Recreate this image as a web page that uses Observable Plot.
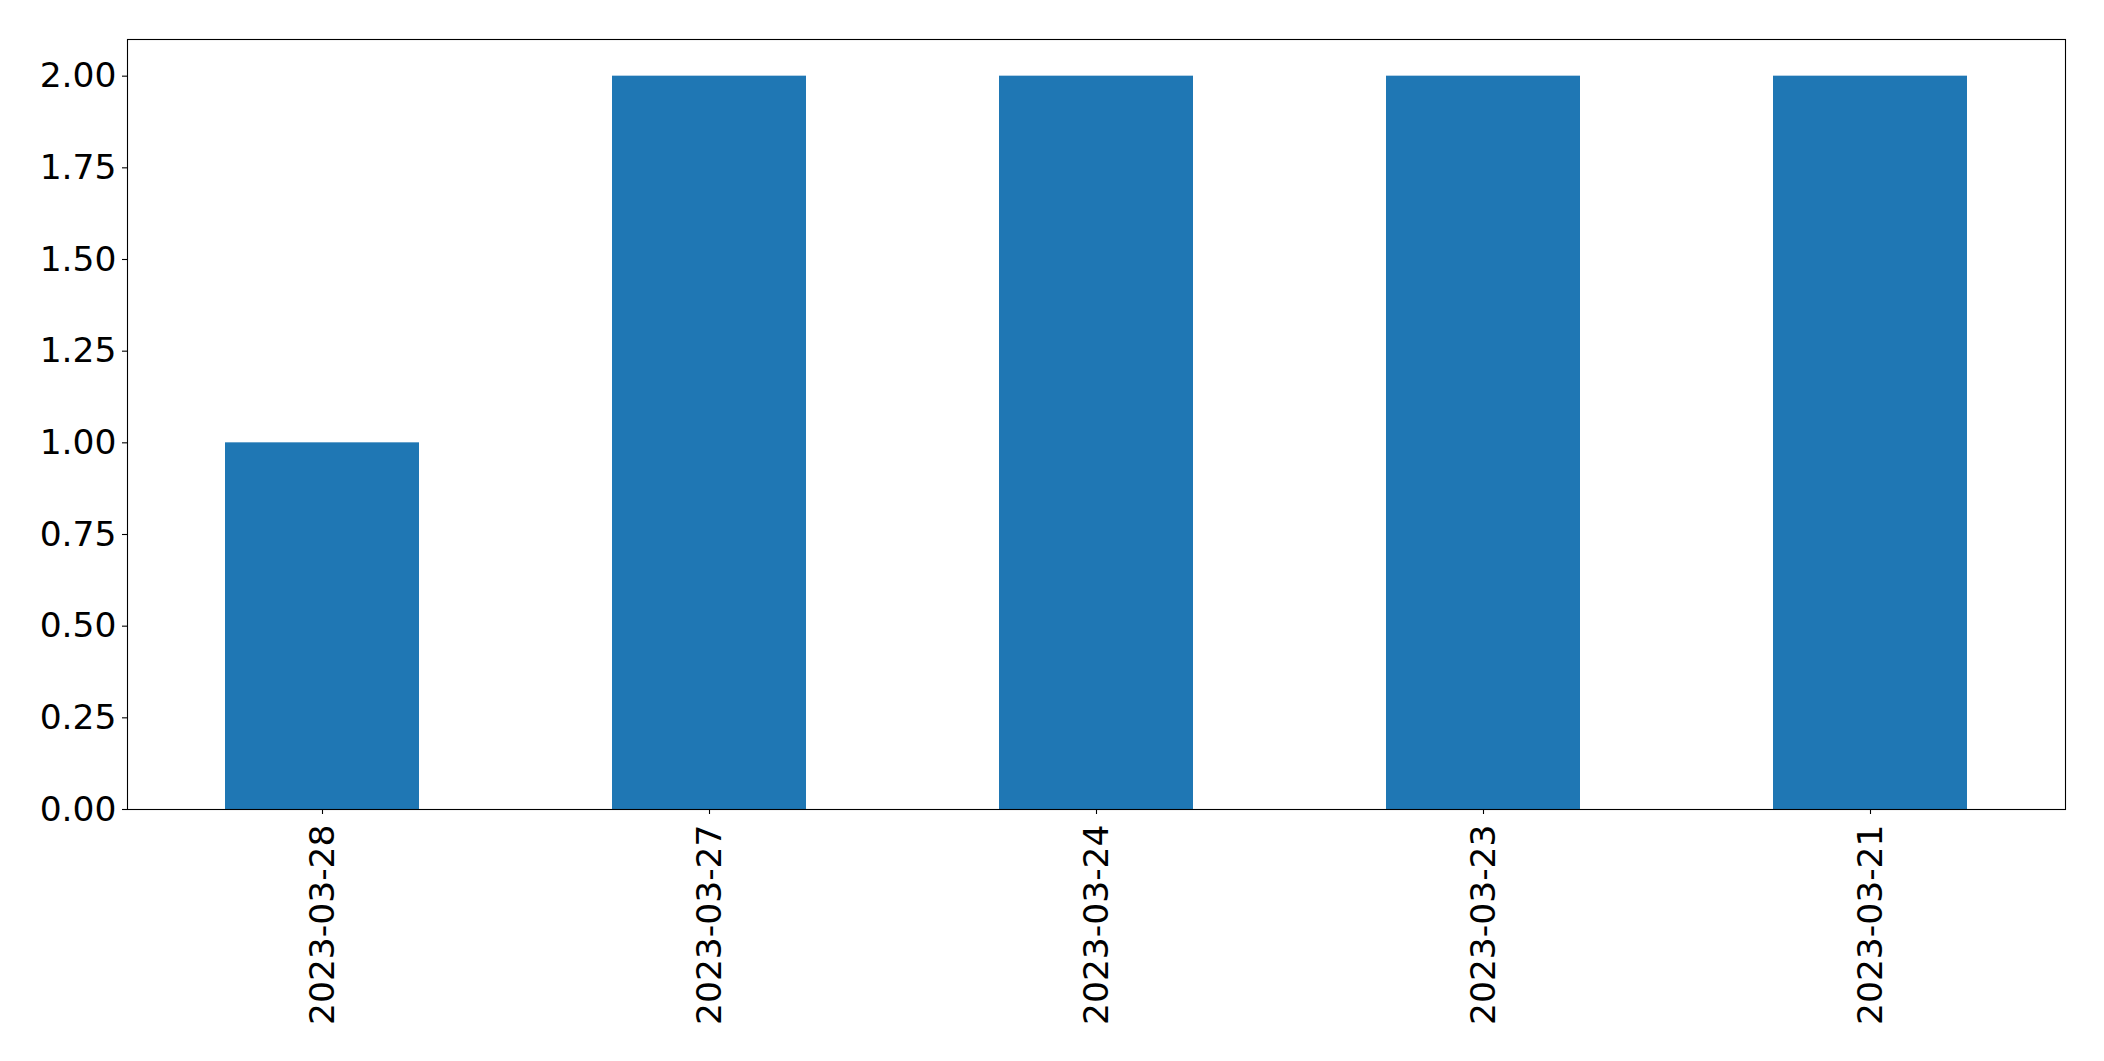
<!DOCTYPE html>
<html>
<head>
<meta charset="utf-8">
<script src="https://cdn.jsdelivr.net/npm/d3@7"></script>
<script src="https://cdn.jsdelivr.net/npm/@observablehq/plot@0.6"></script>
<style>
  html, body { margin: 0; padding: 0; background: #fff; }
</style>
</head>
<body>
<div id="chart"></div>
<script>
const dates = ["2023-03-28", "2023-03-27", "2023-03-24", "2023-03-23", "2023-03-21"];
const counts = [1, 2, 2, 2, 2];
const yTicks = [0, 0.25, 0.5, 0.75, 1.0, 1.25, 1.5, 1.75, 2.0];

const data = dates.map((d, i) => ({date: d, count: counts[i]}));

const chart = Plot.plot({
  width: 2104,
  height: 1061,
  marginLeft: 127,
  marginRight: 39,
  marginTop: 39,
  marginBottom: 252,
  style: {fontFamily: "DejaVu Sans", fontSize: "34.5px", background: "#fff", color: "#000"},
  x: {domain: dates, paddingInner: 0.5, paddingOuter: 0.25, label: null},
  y: {domain: [0, 2.1], label: null},
  marks: [
    Plot.barY(data, {x: "date", y: "count", fill: "#1f77b4"}),
    Plot.frame({stroke: "#000", strokeWidth: 1.1}),
    Plot.axisY({ticks: yTicks, tickFormat: d3.format(".2f"), tickSize: 5, tickPadding: 6, label: null, fontSize: 34.5, stroke: "#000", strokeWidth: 1.1}),
    Plot.axisX({tickSize: 5, tickPadding: 10, tickRotate: -90, label: null, fontSize: 34.5, stroke: "#000", strokeWidth: 1.1})
  ]
});
document.getElementById("chart").appendChild(chart);
</script>
</body>
</html>
